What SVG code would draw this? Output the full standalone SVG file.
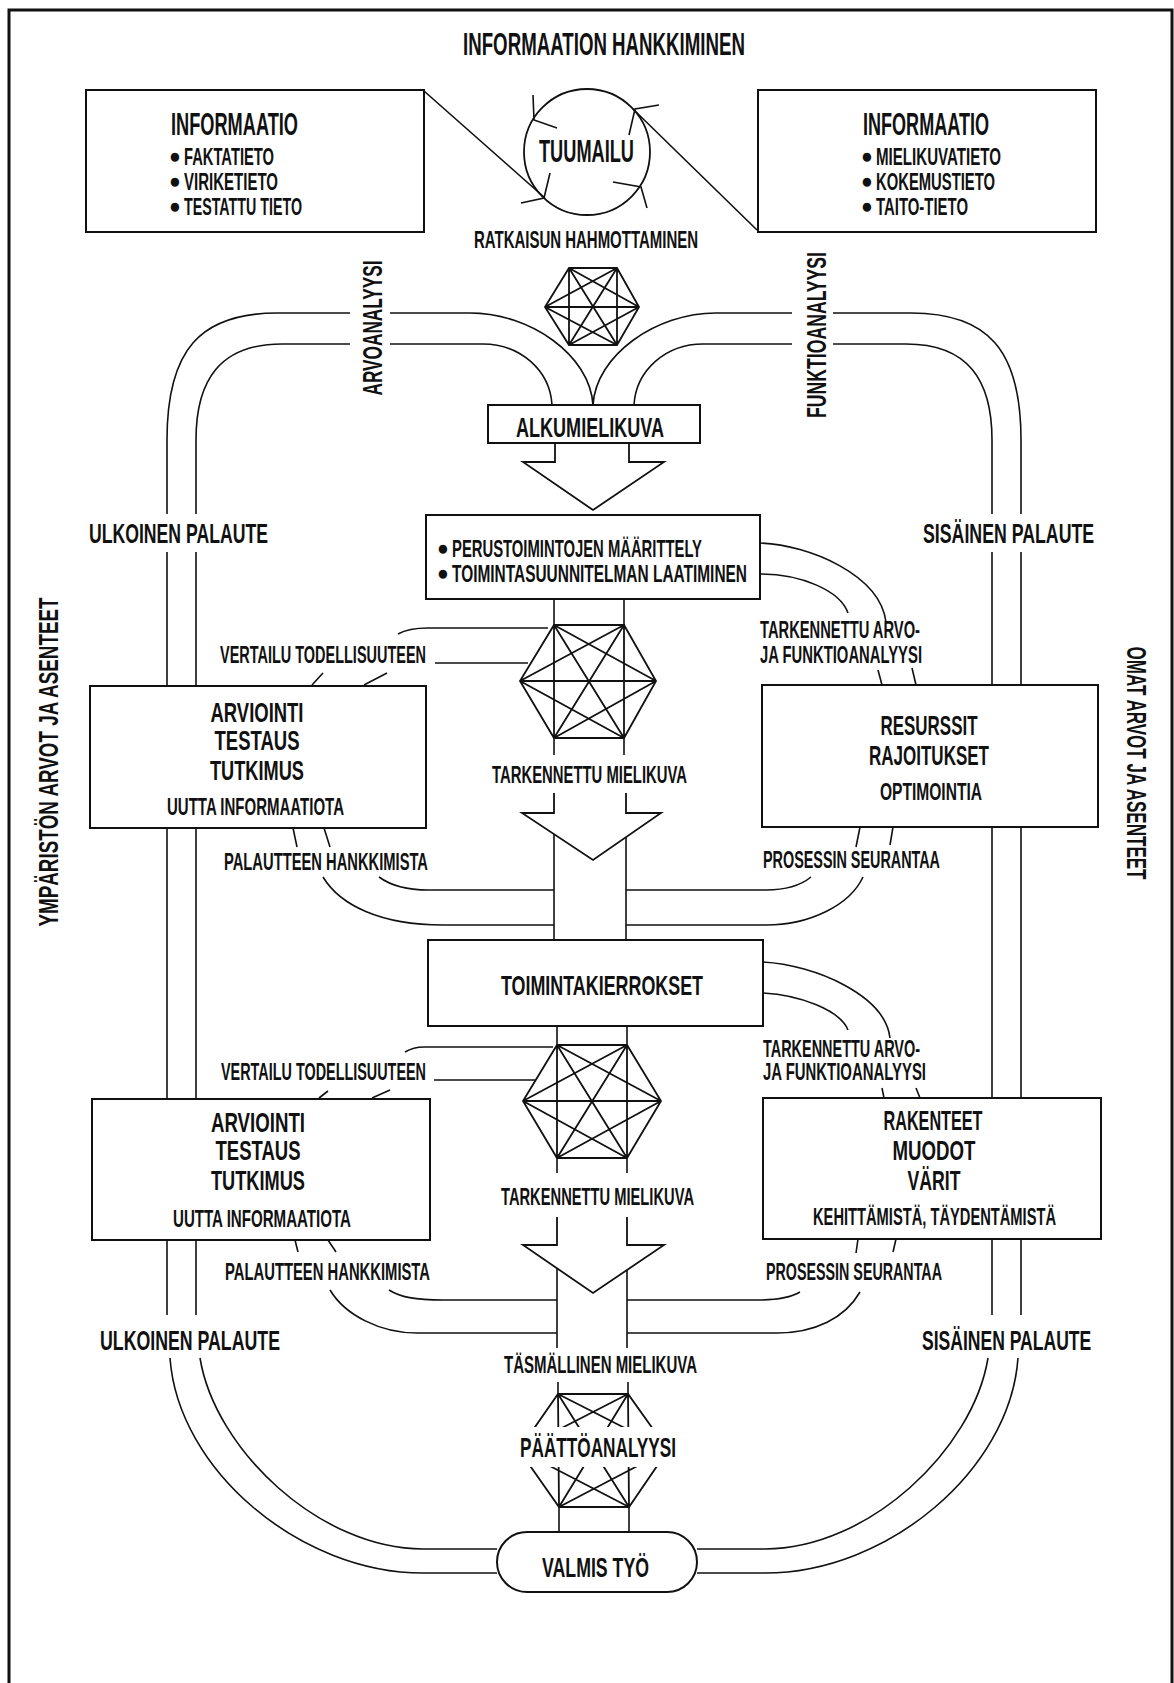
<svg xmlns="http://www.w3.org/2000/svg" width="1174" height="1683" viewBox="0 0 1174 1683">
<style>
text{font-family:"Liberation Sans",Arial,sans-serif;font-weight:bold;fill:#111;}
.b{font-size:28px}
.m{font-size:23px}
.l{font-size:31px}
.bul{font-size:23px}
.box{fill:#fff;stroke:#111;stroke-width:2}
.ln{fill:none;stroke:#111;stroke-width:1.6}
.net{fill:none;stroke:#111;stroke-width:1.8}
.arr{fill:#fff;stroke:#111;stroke-width:1.8}
</style>
<rect x="0" y="0" width="1174" height="1683" fill="#fff"/>
<rect x="9" y="10" width="1163" height="1690" fill="none" stroke="#111" stroke-width="3"/>

<g id="connectors">
  <path class="ln" d="M350,313 L277,313 C200,313 167,350 167,440 L167,514 M167,552 L167,686 M167,828 L167,1099 M167,1240 L167,1315 M170,1358 C178,1470 300,1573 423,1573 L497,1573"/>
  <path class="ln" d="M350,344 L282,344 C220,344 196,380 196,440 L196,514 M196,552 L196,686 M196,828 L196,1099 M196,1240 L196,1315 M200,1358 C215,1450 320,1549 423,1549 L497,1549"/>
  <path class="ln" d="M833,313 L911,313 C988,313 1021,350 1021,440 L1021,514 M1021,552 L1021,685 M1021,827 L1021,1098 M1021,1239 L1021,1315 M1018,1358 C1010,1470 888,1573 765,1573 L697,1573"/>
  <path class="ln" d="M833,344 L906,344 C968,344 992,380 992,440 L992,514 M992,552 L992,685 M992,827 L992,1098 M992,1239 L992,1315 M988,1358 C973,1450 868,1549 765,1549 L697,1549"/>
  <path class="ln" d="M390,313 L470,313 C530,313 590,355 593,405"/>
  <path class="ln" d="M390,344 L483,344 C520,344 550,370 552,405"/>
  <path class="ln" d="M792,313 L716,313 C656,313 596,355 593,405"/>
  <path class="ln" d="M792,344 L703,344 C666,344 636,370 634,405"/>
  <path class="ln" d="M424,91 L545,198 M633,109 L757,230"/>
  <path class="ln" d="M533,95 L534,120 L557,128 M659,105 L635,109 L629,135 M550,173 L544,198 L521,203 M613,182 L641,187 L647,208"/>
  <path class="ln" d="M554,599 L554,625 M624,599 L624,625 M554,738 L554,755 M624,738 L624,755"/>
  <path class="ln" d="M554,834 L554,940 M626,837 L626,940"/>
  <path class="ln" d="M557,1026 L557,1045 M627,1026 L627,1045 M557,1158 L557,1173 M627,1158 L627,1173"/>
  <path class="ln" d="M557,1268 L557,1348 M627,1270 L627,1348"/>
  <path class="ln" d="M558,1382 L558,1394 M628,1382 L628,1394 M559,1507 L559,1532 M629,1507 L629,1532"/>
  <path class="arr" d="M555,443 L555,462 L523,462 L593,510 L664,462 L629,462 L629,443"/>
  <path class="arr" d="M554,793 L554,813 L522,813 L593,860 L661,813 L626,813 L626,793"/>
  <path class="arr" d="M557,1217 L557,1245 L523,1245 L593,1293 L664,1245 L627,1245 L627,1217"/>
  <path class="ln" d="M548,628 L428,628 C415,628 405,630 398,634 M528,663 L435,663 M312,685 L323,673 M364,685 L387,673"/>
  <path class="ln" d="M553,1047 L424,1047 C415,1047 410,1049 405,1052 M535,1080 L434,1080 M319,1098 L328,1091 M372,1098 L390,1090"/>
  <path class="ln" d="M760,543 C810,545 880,575 886,622 M760,574 C800,574 840,590 848,613 M878,670 L882,685 M912,668 L916,685"/>
  <path class="ln" d="M763,962 C815,965 885,995 890,1038 M763,993 C800,995 840,1010 848,1030 M882,1088 L884,1098 M916,1088 L920,1098"/>
  <path class="ln" d="M293,828 L297,847 M324,828 L330,847 M860,827 L856,847 M893,827 L890,845"/>
  <path class="ln" d="M323,877 C340,905 380,925 443,925 L554,925 M379,877 C390,885 405,890 428,890 L554,890 M811,877 C800,886 785,890 766,890 L626,890 M863,877 C850,905 810,925 766,925 L626,925"/>
  <path class="ln" d="M295,1240 L298,1252 M328,1240 L336,1252 M858,1239 L856,1253 M896,1239 L893,1252"/>
  <path class="ln" d="M330,1290 C345,1315 380,1333 417,1333 L557,1333 M389,1290 C400,1297 415,1300 443,1300 L557,1300 M800,1292 C790,1298 775,1300 758,1300 L627,1300 M860,1292 C845,1318 815,1333 777,1333 L627,1333"/>
</g>

<g id="title"><text class="l" x="463" y="55" textLength="282" lengthAdjust="spacingAndGlyphs">INFORMAATION HANKKIMINEN</text></g>

<g id="info-left">
  <rect class="box" x="86" y="90" width="338" height="142"/>
  <text class="l" x="171" y="135" textLength="127" lengthAdjust="spacingAndGlyphs">INFORMAATIO</text>
  <text class="bul" transform="translate(169,163) scale(0.85,0.92)">●</text>
  <text class="m" x="184" y="165" textLength="90" lengthAdjust="spacingAndGlyphs">FAKTATIETO</text>
  <text class="bul" transform="translate(169,188) scale(0.85,0.92)">●</text>
  <text class="m" x="184" y="190" textLength="94" lengthAdjust="spacingAndGlyphs">VIRIKETIETO</text>
  <text class="bul" transform="translate(169,213) scale(0.85,0.92)">●</text>
  <text class="m" x="184" y="215" textLength="118" lengthAdjust="spacingAndGlyphs">TESTATTU TIETO</text>
</g>
<g id="info-right">
  <rect class="box" x="758" y="90" width="338" height="142"/>
  <text class="l" x="863" y="135" textLength="126" lengthAdjust="spacingAndGlyphs">INFORMAATIO</text>
  <text class="bul" transform="translate(861,163) scale(0.85,0.92)">●</text>
  <text class="m" x="876" y="165" textLength="125" lengthAdjust="spacingAndGlyphs">MIELIKUVATIETO</text>
  <text class="bul" transform="translate(861,188) scale(0.85,0.92)">●</text>
  <text class="m" x="876" y="190" textLength="119" lengthAdjust="spacingAndGlyphs">KOKEMUSTIETO</text>
  <text class="bul" transform="translate(861,213) scale(0.85,0.92)">●</text>
  <text class="m" x="876" y="215" textLength="92" lengthAdjust="spacingAndGlyphs">TAITO-TIETO</text>
</g>
<g id="tuumailu">
  <circle cx="587" cy="152" r="63" fill="none" stroke="#111" stroke-width="1.8"/>
  <text class="l" x="539" y="162" textLength="95" lengthAdjust="spacingAndGlyphs">TUUMAILU</text>
</g>
<g id="ratkaisu"><text class="m" x="474" y="248" textLength="224" lengthAdjust="spacingAndGlyphs">RATKAISUN HAHMOTTAMINEN</text></g>

<g id="network1">
  <path class="net" d="M569,268 L617,268 L639,307 L617,345 L569,345 L545,307 Z M569,268 L569,345 M617,268 L617,345 M545,307 L639,307 M569,268 L617,345 M617,268 L569,345 M569,268 L639,307 M617,268 L545,307 M569,345 L639,307 M617,345 L545,307"/>
</g>
<g id="arvoanalyysi"><text class="b" transform="translate(382,328) rotate(-90)" text-anchor="middle" textLength="135" lengthAdjust="spacingAndGlyphs">ARVOANALYYSI</text></g>
<g id="funktioanalyysi"><text class="b" transform="translate(826,335) rotate(-90)" text-anchor="middle" textLength="166" lengthAdjust="spacingAndGlyphs">FUNKTIOANALYYSI</text></g>

<g id="alkumielikuva">
  <rect class="box" x="488" y="405" width="212" height="38"/>
  <text class="b" x="516" y="437" textLength="148" lengthAdjust="spacingAndGlyphs">ALKUMIELIKUVA</text>
</g>

<g id="perustoiminnot">
  <rect class="box" x="426" y="515" width="334" height="84"/>
  <text class="bul" transform="translate(437,555) scale(0.85,0.92)">●</text>
  <text class="m" x="452" y="557" textLength="250" lengthAdjust="spacingAndGlyphs">PERUSTOIMINTOJEN MÄÄRITTELY</text>
  <text class="bul" transform="translate(437,580) scale(0.85,0.92)">●</text>
  <text class="m" x="452" y="582" textLength="295" lengthAdjust="spacingAndGlyphs">TOIMINTASUUNNITELMAN LAATIMINEN</text>
</g>

<g id="ulkoinen1"><text class="b" x="89" y="543" textLength="179" lengthAdjust="spacingAndGlyphs">ULKOINEN PALAUTE</text></g>
<g id="sisainen1"><text class="b" transform="translate(923,543) scale(0.62,1)" x="0" y="0" textLength="276" lengthAdjust="spacingAndGlyphs">SISÄINEN PALAUTE</text></g>
<g id="ymparisto"><text class="b" transform="translate(58,762) rotate(-90)" text-anchor="middle" textLength="329" lengthAdjust="spacingAndGlyphs">YMPÄRISTÖN ARVOT JA ASENTEET</text></g>
<g id="omat"><text class="b" transform="translate(1127,763) rotate(90)" text-anchor="middle" textLength="233" lengthAdjust="spacingAndGlyphs">OMAT ARVOT JA ASENTEET</text></g>

<g id="network2">
  <path class="net" d="M554,625 L624,625 L656,681 L624,738 L554,738 L520,681 Z M554,625 L554,738 M624,625 L624,738 M520,681 L656,681 M554,625 L624,738 M624,625 L554,738 M554,625 L656,681 M624,625 L520,681 M554,738 L656,681 M624,738 L520,681"/>
</g>
<g id="vertailu1"><text class="m" x="220" y="663" textLength="206" lengthAdjust="spacingAndGlyphs">VERTAILU TODELLISUUTEEN</text></g>
<g id="tarkennettu-arvo1">
  <text class="m" x="760" y="638" textLength="160" lengthAdjust="spacingAndGlyphs">TARKENNETTU ARVO-</text>
  <text class="m" x="760" y="663" textLength="162" lengthAdjust="spacingAndGlyphs">JA FUNKTIOANALYYSI</text>
</g>

<g id="arviointi1">
  <rect class="box" x="90" y="686" width="336" height="142"/>
  <text class="b" x="257" y="722" text-anchor="middle" textLength="93" lengthAdjust="spacingAndGlyphs">ARVIOINTI</text>
  <text class="b" x="257" y="750" text-anchor="middle" textLength="85" lengthAdjust="spacingAndGlyphs">TESTAUS</text>
  <text class="b" x="257" y="780" text-anchor="middle" textLength="94" lengthAdjust="spacingAndGlyphs">TUTKIMUS</text>
  <text class="m" x="167" y="815" textLength="177" lengthAdjust="spacingAndGlyphs">UUTTA INFORMAATIOTA</text>
</g>
<g id="resurssit">
  <rect class="box" x="762" y="685" width="336" height="142"/>
  <text class="b" x="929" y="735" text-anchor="middle" textLength="97" lengthAdjust="spacingAndGlyphs">RESURSSIT</text>
  <text class="b" x="929" y="765" text-anchor="middle" textLength="120" lengthAdjust="spacingAndGlyphs">RAJOITUKSET</text>
  <text class="m" x="931" y="800" text-anchor="middle" textLength="102" lengthAdjust="spacingAndGlyphs">OPTIMOINTIA</text>
</g>
<g id="tarkennettu-mielikuva1"><text class="m" x="492" y="783" textLength="195" lengthAdjust="spacingAndGlyphs">TARKENNETTU MIELIKUVA</text></g>
<g id="palautteen1"><text class="m" x="224" y="870" textLength="204" lengthAdjust="spacingAndGlyphs">PALAUTTEEN HANKKIMISTA</text></g>
<g id="prosessin1"><text class="m" x="763" y="868" textLength="177" lengthAdjust="spacingAndGlyphs">PROSESSIN SEURANTAA</text></g>

<g id="toimintakierrokset">
  <rect class="box" x="428" y="940" width="335" height="86"/>
  <text class="b" x="501" y="995" textLength="202" lengthAdjust="spacingAndGlyphs">TOIMINTAKIERROKSET</text>
</g>

<g id="network3">
  <path class="net" d="M557,1045 L627,1045 L661,1101 L627,1158 L557,1158 L523,1101 Z M557,1045 L557,1158 M627,1045 L627,1158 M523,1101 L661,1101 M557,1045 L627,1158 M627,1045 L557,1158 M557,1045 L661,1101 M627,1045 L523,1101 M557,1158 L661,1101 M627,1158 L523,1101"/>
</g>
<g id="tarkennettu-arvo2">
  <text class="m" x="763" y="1057" textLength="157" lengthAdjust="spacingAndGlyphs">TARKENNETTU ARVO-</text>
  <text class="m" x="763" y="1080" textLength="163" lengthAdjust="spacingAndGlyphs">JA FUNKTIOANALYYSI</text>
</g>
<g id="vertailu2"><text class="m" x="221" y="1080" textLength="205" lengthAdjust="spacingAndGlyphs">VERTAILU TODELLISUUTEEN</text></g>

<g id="arviointi2">
  <rect class="box" x="92" y="1099" width="338" height="141"/>
  <text class="b" x="258" y="1132" text-anchor="middle" textLength="94" lengthAdjust="spacingAndGlyphs">ARVIOINTI</text>
  <text class="b" x="258" y="1160" text-anchor="middle" textLength="85" lengthAdjust="spacingAndGlyphs">TESTAUS</text>
  <text class="b" x="258" y="1190" text-anchor="middle" textLength="94" lengthAdjust="spacingAndGlyphs">TUTKIMUS</text>
  <text class="m" x="173" y="1227" textLength="178" lengthAdjust="spacingAndGlyphs">UUTTA INFORMAATIOTA</text>
</g>
<g id="rakenteet">
  <rect class="box" x="763" y="1098" width="338" height="141"/>
  <text class="b" x="933" y="1130" text-anchor="middle" textLength="99" lengthAdjust="spacingAndGlyphs">RAKENTEET</text>
  <text class="b" x="934" y="1160" text-anchor="middle" textLength="83" lengthAdjust="spacingAndGlyphs">MUODOT</text>
  <text class="b" x="934" y="1190" text-anchor="middle" textLength="53" lengthAdjust="spacingAndGlyphs">VÄRIT</text>
  <text class="m" transform="translate(813,1225) scale(0.62,1)" x="0" y="0" textLength="392" lengthAdjust="spacingAndGlyphs">KEHITTÄMISTÄ, TÄYDENTÄMISTÄ</text>
</g>
<g id="tarkennettu-mielikuva2"><text class="m" x="501" y="1205" textLength="193" lengthAdjust="spacingAndGlyphs">TARKENNETTU MIELIKUVA</text></g>
<g id="palautteen2"><text class="m" x="225" y="1280" textLength="205" lengthAdjust="spacingAndGlyphs">PALAUTTEEN HANKKIMISTA</text></g>
<g id="prosessin2"><text class="m" x="766" y="1280" textLength="176" lengthAdjust="spacingAndGlyphs">PROSESSIN SEURANTAA</text></g>
<g id="ulkoinen2"><text class="b" x="100" y="1350" textLength="180" lengthAdjust="spacingAndGlyphs">ULKOINEN PALAUTE</text></g>
<g id="sisainen2"><text class="b" transform="translate(922,1350) scale(0.62,1)" x="0" y="0" textLength="273" lengthAdjust="spacingAndGlyphs">SISÄINEN PALAUTE</text></g>
<g id="tasmallinen"><text class="m" x="504" y="1373" textLength="193" lengthAdjust="spacingAndGlyphs">TÄSMÄLLINEN MIELIKUVA</text></g>

<g id="paattoanalyysi">
  <path class="net" d="M558,1394 L628,1394 L668,1450 L629,1507 L559,1507 L519,1450 Z M558,1394 L559,1507 M628,1394 L629,1507 M558,1394 L629,1507 M628,1394 L559,1507 M558,1394 L668,1450 M628,1394 L519,1450 M559,1507 L668,1450 M629,1507 L519,1450"/>
  <rect x="505" y="1427" width="185" height="40" fill="#fff"/>
  <text class="b" x="520" y="1457" textLength="156" lengthAdjust="spacingAndGlyphs">PÄÄTTÖANALYYSI</text>
</g>

<g id="valmis-tyo">
  <rect class="box" x="497" y="1532" width="200" height="60" rx="30" ry="30"/>
  <text class="b" x="542" y="1577" textLength="107" lengthAdjust="spacingAndGlyphs">VALMIS TYÖ</text>
</g>
</svg>
